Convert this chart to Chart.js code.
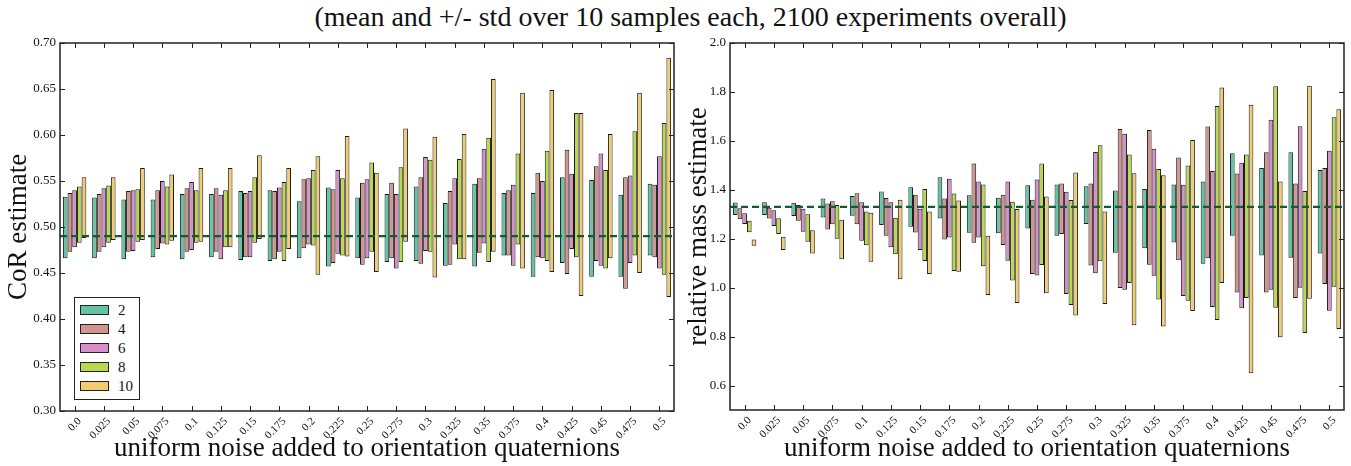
<!DOCTYPE html>
<html>
<head>
<meta charset="utf-8">
<script src="https://cdn.jsdelivr.net/npm/chart.js@4.4.1/dist/chart.umd.min.js"></script>
<style>
  body { margin: 0; background: #fff; font-family: "Liberation Serif", serif; }
  #wrap { position: relative; width: 1351px; height: 466px; overflow: hidden; }
  #title { position: absolute; left: 15px; top: 0; width: 1351px; text-align: center; font-size: 28px; line-height: 34px; color: #111; }
  .box { position: absolute; top: 0; height: 466px; }
  #legend { position: absolute; left: 74px; top: 297px; width: 64px; height: 101px; border: 1px solid #222; background: #fff; }
  .item { position: absolute; left: 5px; height: 19px; font-size: 15px; line-height: 19px; color: #111; }
  .sw { display: inline-block; width: 27px; height: 8px; border: 1px solid #222; vertical-align: middle; margin-right: 9px; margin-top: -3px; }
</style>
</head>
<body>
<div id="wrap">
  <div id="title">(mean and +/- std over 10 samples each, 2100 experiments overall)</div>
  <div class="box" style="left:0;width:680px"><canvas id="cor"></canvas></div>
  <div class="box" style="left:680px;width:671px"><canvas id="mass"></canvas></div>
  <div id="legend"></div>
</div>
<script>
// categories and series
const noise = ['0.0', '0.025', '0.05', '0.075', '0.1', '0.125', '0.15', '0.175', '0.2', '0.225', '0.25',
               '0.275', '0.3', '0.325', '0.35', '0.375', '0.4', '0.425', '0.45', '0.475', '0.5'];
const seriesNames = ['2', '4', '6', '8', '10'];
const colors = ['#63c4a4', '#d2948c', '#d68fc8', '#b8d850', '#f0ce70'];

// CoR estimate: mean - std / mean + std
const corLo2  = [0.466,0.466,0.465,0.467,0.465,0.467,0.464,0.463,0.466,0.457,0.466,0.462,0.463,0.458,0.457,0.469,0.446,0.461,0.446,0.446,0.469];
const corHi2  = [0.533,0.532,0.530,0.530,0.536,0.536,0.539,0.540,0.528,0.543,0.532,0.536,0.544,0.526,0.547,0.537,0.537,0.554,0.551,0.535,0.547];
const corLo4  = [0.473,0.473,0.473,0.476,0.473,0.473,0.467,0.465,0.477,0.461,0.459,0.466,0.460,0.459,0.472,0.469,0.467,0.449,0.463,0.433,0.467];
const corHi4  = [0.537,0.536,0.539,0.540,0.542,0.542,0.537,0.539,0.552,0.541,0.548,0.548,0.554,0.539,0.553,0.540,0.559,0.584,0.566,0.554,0.546];
const corLo6  = [0.478,0.478,0.474,0.482,0.475,0.465,0.467,0.473,0.481,0.471,0.466,0.455,0.474,0.481,0.482,0.458,0.466,0.476,0.458,0.461,0.455];
const corHi6  = [0.540,0.542,0.540,0.550,0.549,0.535,0.539,0.543,0.553,0.562,0.552,0.536,0.576,0.553,0.585,0.546,0.550,0.558,0.580,0.556,0.577];
const corLo8  = [0.483,0.483,0.484,0.481,0.483,0.478,0.483,0.463,0.480,0.469,0.473,0.462,0.473,0.465,0.462,0.481,0.463,0.467,0.455,0.469,0.448];
const corHi8  = [0.544,0.545,0.541,0.544,0.540,0.540,0.554,0.549,0.562,0.553,0.570,0.565,0.573,0.574,0.597,0.580,0.583,0.624,0.562,0.604,0.613];
const corLo10 = [0.488,0.486,0.486,0.485,0.484,0.478,0.487,0.476,0.448,0.468,0.451,0.484,0.445,0.465,0.473,0.455,0.451,0.425,0.466,0.450,0.424];
const corHi10 = [0.554,0.554,0.564,0.557,0.564,0.564,0.578,0.564,0.577,0.599,0.559,0.607,0.598,0.601,0.661,0.646,0.649,0.624,0.601,0.646,0.684];

// relative mass estimate
const massLo2  = [1.297,1.297,1.293,1.287,1.294,1.256,1.249,1.283,1.224,1.222,1.242,1.212,1.260,1.143,1.161,1.185,1.098,1.212,1.131,1.122,1.140];
const massHi2  = [1.348,1.349,1.347,1.364,1.375,1.393,1.410,1.451,1.378,1.368,1.419,1.422,1.415,1.397,1.403,1.422,1.434,1.549,1.489,1.553,1.481];
const massLo4  = [1.280,1.283,1.273,1.238,1.259,1.212,1.225,1.197,1.184,1.174,1.056,1.219,1.091,0.999,1.094,1.112,1.120,0.980,0.980,0.958,1.015];
const massHi4  = [1.325,1.327,1.338,1.344,1.386,1.366,1.380,1.364,1.508,1.380,1.359,1.426,1.426,1.648,1.644,1.532,1.659,1.467,1.553,1.426,1.489];
const massLo6  = [1.260,1.252,1.229,1.259,1.192,1.165,1.154,1.205,1.205,1.110,1.050,0.974,1.059,0.991,1.049,0.966,0.921,0.916,0.991,1.000,0.906];
const massHi6  = [1.304,1.316,1.323,1.353,1.349,1.349,1.323,1.445,1.434,1.434,1.442,1.392,1.555,1.629,1.568,1.421,1.477,1.511,1.686,1.660,1.560];
const massLo8  = [1.226,1.219,1.188,1.200,1.173,1.137,1.109,1.068,1.088,1.029,1.093,0.929,1.108,1.019,0.952,0.947,0.868,0.958,0.918,0.815,1.004];
const massHi8  = [1.273,1.284,1.300,1.338,1.311,1.286,1.403,1.385,1.422,1.351,1.508,1.358,1.582,1.544,1.485,1.499,1.743,1.544,1.823,1.395,1.697];
const massLo10 = [1.171,1.154,1.140,1.116,1.106,1.034,1.056,1.065,0.970,0.937,0.977,0.886,0.933,0.846,0.841,0.905,1.019,0.650,0.797,0.955,0.831];
const massHi10 = [1.197,1.208,1.235,1.278,1.306,1.359,1.311,1.356,1.212,1.322,1.373,1.471,1.311,1.468,1.459,1.604,1.818,1.748,1.434,1.825,1.729];

// reference values (dashed lines) and tick labels
const corRef = 0.49;
const massRef = 1.33;
const corTicks = [0.30, 0.35, 0.40, 0.45, 0.50, 0.55, 0.60, 0.65, 0.70];
const massTicks = [0.6, 0.8, 1.0, 1.2, 1.4, 1.6, 1.8, 2.0];

const serif = '"Liberation Serif", "DejaVu Serif", serif';

// dashed reference line across the whole plot, placed with the y scale
const refLine = {
    id: 'refLine',
    afterDatasetsDraw(chart, args, opts) {
        const { ctx, chartArea: a, scales } = chart;
        const py = scales.y.getPixelForValue(opts.value);
        ctx.save();
        ctx.strokeStyle = '#145a32';
        ctx.lineWidth = 2.2;
        ctx.setLineDash([7, 4]);
        ctx.beginPath();
        ctx.moveTo(a.left, py);
        ctx.lineTo(a.right, py);
        ctx.stroke();
        ctx.restore();
    }
};

// box around the plot and inward tick marks (matplotlib look)
const frame = {
    id: 'frame',
    afterDatasetsDraw(chart) {
        const { ctx, chartArea: a, scales } = chart;
        ctx.save();
        ctx.strokeStyle = '#222';
        ctx.lineWidth = 1;
        ctx.beginPath();
        scales.x.ticks.forEach((t, i) => {
            const px = Math.round(scales.x.getPixelForTick(i)) + 0.5;
            ctx.moveTo(px, a.bottom); ctx.lineTo(px, a.bottom - 5);
            ctx.moveTo(px, a.top); ctx.lineTo(px, a.top + 5);
        });
        scales.y.ticks.forEach((t, i) => {
            const py = Math.round(scales.y.getPixelForTick(i)) + 0.5;
            ctx.moveTo(a.left, py); ctx.lineTo(a.left + 5, py);
            ctx.moveTo(a.right, py); ctx.lineTo(a.right - 5, py);
        });
        ctx.stroke();
        ctx.lineWidth = 1.5;
        ctx.strokeRect(a.left, a.top, a.width, a.height);
        ctx.restore();
    }
};

function makeChart(id, lows, highs, ref, ticks, yMin, yMax, digits, yLabel, yWidth, xHeight, padRight) {
    const datasets = seriesNames.map((name, s) => ({
        label: name,
        data: noise.map((_, i) => [lows[s][i], highs[s][i]]),
        backgroundColor: colors[s],
        borderColor: '#1a1a1a',
        borderWidth: 1,
        borderSkipped: false,
        categoryPercentage: 0.8,
        barPercentage: 1.0
    }));

    return new Chart(document.getElementById(id), {
        type: 'bar',
        data: { labels: noise, datasets: datasets },
        options: {
            responsive: true,
            maintainAspectRatio: false,
            animation: false,
            layout: { padding: { top: 43, right: padRight, left: 0, bottom: 0 } },
            plugins: {
                legend: { display: false },
                tooltip: { enabled: false },
                refLine: { value: ref }
            },
            scales: {
                x: {
                    grid: { display: false, drawTicks: false },
                    border: { display: false },
                    ticks: {
                        color: '#111', font: { family: serif, size: 11 },
                        minRotation: 45, maxRotation: 45, padding: 4, labelOffset: 5
                    },
                    title: {
                        display: true, text: 'uniform noise added to orientation quaternions',
                        color: '#111', font: { family: serif, size: 27 }, padding: { top: 0, bottom: 1 }
                    },
                    afterFit: s => { s.height = xHeight; }
                },
                y: {
                    min: yMin, max: yMax,
                    grid: { display: false, drawTicks: false },
                    border: { display: false },
                    afterBuildTicks: s => { s.ticks = ticks.map(v => ({ value: v })); },
                    ticks: {
                        color: '#111', font: { family: serif, size: 13 }, padding: 4,
                        callback: v => Number(v).toFixed(digits)
                    },
                    title: {
                        display: true, text: yLabel,
                        color: '#111', font: { family: serif, size: 27 }, padding: { top: 3, bottom: 0 }
                    },
                    afterFit: s => { s.width = yWidth; }
                }
            }
        },
        plugins: [refLine, frame]
    });
}

makeChart('cor',
    [corLo2, corLo4, corLo6, corLo8, corLo10],
    [corHi2, corHi4, corHi6, corHi8, corHi10],
    corRef, corTicks, 0.30, 0.70, 2, 'CoR estimate', 60, 55, 6);

makeChart('mass',
    [massLo2, massLo4, massLo6, massLo8, massLo10],
    [massHi2, massHi4, massHi6, massHi8, massHi10],
    massRef, massTicks, 0.5, 2.0, 1, 'relative mass estimate', 50, 56, 7);

// legend box inside the left plot
const legend = document.getElementById('legend');
seriesNames.forEach((name, s) => {
    const item = document.createElement('div');
    item.className = 'item';
    item.style.top = (3 + s * 19) + 'px';
    item.innerHTML = '<span class="sw" style="background:' + colors[s] + '"></span>' + name;
    legend.appendChild(item);
});
</script>
</body>
</html>
